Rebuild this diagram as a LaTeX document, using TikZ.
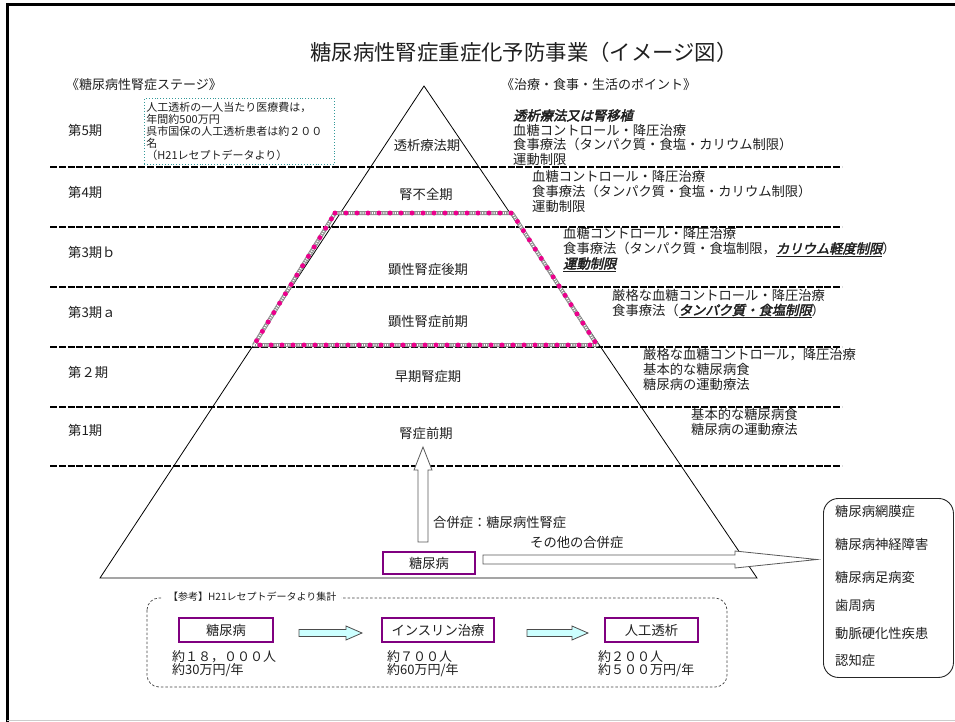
\documentclass[tikz,border=0pt]{standalone}
\usepackage{fontspec}
\setmainfont{Noto Sans CJK JP}
\newfontfamily\bifont[FakeSlant=0.22,FakeBold=2.5]{Noto Sans CJK JP}
\newcommand\bu[1]{\underline{\bifont #1}}
\definecolor{pboxc}{HTML}{800080}
\definecolor{tealc}{HTML}{339999}
\definecolor{cyanfill}{HTML}{CCFFFF}
\begin{document}
\begin{tikzpicture}[x=1pt,y=-1pt,
  txt/.style={inner sep=0pt, text=black!88, font=\fontsize{13.3}{15}\selectfont, align=left, anchor=west},
  ctxt/.style={inner sep=0pt, text=black!88, font=\fontsize{13.3}{15}\selectfont},
  stageline/.style={line width=1.6pt, dash pattern=on 7pt off 1.8pt},
  pbox/.style={draw=pboxc, line width=2.6pt, inner sep=0pt, text=black!88, font=\fontsize{13.3}{15}\selectfont, minimum height=22pt},
  blockarrow/.style={draw=black!65, fill=white, line width=0.8pt},
  cyanarrow/.style={draw=black!70, fill=cyanfill, line width=0.8pt}]
\useasboundingbox (0,0) rectangle (955,722);
% frame
\draw[line width=3pt] (7,722) -- (7,5) -- (957,5);
\draw[black!20, line width=1pt] (7,720) -- (955,720);
% title
\node[inner sep=0pt, text=black!88, font=\fontsize{21.4}{24}\selectfont] (title) at (524,52) {糖尿病性腎症重症化予防事業（イメージ図）};
\node[txt, font=\fontsize{13}{15}\selectfont] (hl) at (66,85) {《糖尿病性腎症ステージ》};
\node[txt, font=\fontsize{13}{15}\selectfont] (hr) at (501,85) {《治療・食事・生活のポイント》};
% pyramid
\coordinate (apex) at (424,86);
\coordinate (bl) at (100,578);
\coordinate (br) at (757,578);
\draw[line width=0.8pt] (apex) -- (bl) -- (br) -- cycle;
% stage lines
\foreach \yy in {167,227,287,347,407,466} \draw[stageline] (50,\yy) -- (842,\yy);
% pink trapezoid
\coordinate (t1) at (335,213);
\coordinate (t2) at (512,213);
\coordinate (t3) at (597,345);
\coordinate (t4) at (254,345);
\draw[black!45, line width=4pt, line join=round] (t1) -- (t2) -- (t3) -- (t4) -- cycle;
\draw[white, line width=2pt, dash pattern=on 1pt off 1.3pt] (t1) -- (t2) -- (t3) -- (t4) -- cycle;
\draw[magenta, line width=5pt, line cap=round, dash pattern=on 0pt off 11pt] (t1) -- (t2) -- (t3) -- (t4) -- cycle;
% stage labels
\node[txt] (s5) at (68,130) {第5期};
\node[txt] (s4) at (68,192) {第4期};
\node[txt] (s3b) at (68,252) {第3期ｂ};
\node[txt] (s3a) at (68,312) {第3期ａ};
\node[txt] (s2) at (68,372) {第２期};
\node[txt] (s1) at (68,430) {第1期};
% pyramid stage names
\node[ctxt] (p5) at (427,145) {透析療法期};
\node[ctxt] (p4) at (426,194) {腎不全期};
\node[ctxt] (p3b) at (428,269) {顕性腎症後期};
\node[ctxt] (p3a) at (428,321) {顕性腎症前期};
\node[ctxt] (p2) at (428,376) {早期腎症期};
\node[ctxt] (p1) at (426,433) {腎症前期};
% teal note
\node[draw=tealc, dotted, line width=0.9pt, anchor=north west, text width=186pt, inner xsep=2pt, inner ysep=0pt, minimum height=66pt, align=left, text=black!88, font=\fontsize{11}{12.2}\selectfont] (note) at (144,98) {人工透析の一人当たり医療費は，\\年間約500万円\\呉市国保の人工透析患者は約２００\\名\\（H21レセプトデータより）};
% points
\node[txt, font=\fontsize{13.3}{14.7}\selectfont] (r5) at (513,137.5) {{\bifont 透析療法又は腎移植}\\血糖コントロール・降圧治療\\食事療法（タンパク質・食塩・カリウム制限）\\運動制限};
\node[txt] (r4) at (532,191) {血糖コントロール・降圧治療\\食事療法（タンパク質・食塩・カリウム制限）\\運動制限};
\node[txt] (r3b) at (563,249.5) {血糖コントロール・降圧治療\\食事療法（タンパク質・食塩制限，\bu{カリウム軽度制限}）\\\bu{運動制限}};
\node[txt] (r3a) at (612,303.5) {厳格な血糖コントロール・降圧治療\\食事療法（\bu{タンパク質・食塩制限}）};
\node[txt] (r2) at (643,369) {厳格な血糖コントロール，降圧治療\\基本的な糖尿病食\\糖尿病の運動療法};
\node[txt] (r1) at (691,422) {基本的な糖尿病食\\糖尿病の運動療法};
% complications
\node[pbox, minimum width=92pt] (dm) at (429,563) {糖尿病};
\draw[blockarrow] (418,542) -- (418,470) -- (414,470) -- (423,447) -- (432,470) -- (428,470) -- (428,542) -- cycle;
\node[txt] (kidney) at (433,522) {合併症：糖尿病性腎症};
\node[txt] (other) at (530,542) {その他の合併症};
\draw[blockarrow] (483,555) -- (735,555) -- (735,551) -- (817,559.5) -- (735,568) -- (735,564) -- (483,564) -- cycle;
\node[draw=black!85, line width=0.9pt, rounded corners=15pt, anchor=north west, minimum width=130pt, minimum height=179pt] (comp) at (823,498) {};
\node[txt] (c1) at (835,511) {糖尿病網膜症};
\node[txt] (c2) at (835,544) {糖尿病神経障害};
\node[txt] (c3) at (835,577) {糖尿病足病変};
\node[txt] (c4) at (835,605) {歯周病};
\node[txt] (c5) at (835,633) {動脈硬化性疾患};
\node[txt] (c6) at (835,660) {認知症};
% reference box
\draw[black!75, line width=0.7pt, dash pattern=on 2.5pt off 2pt, rounded corners=12pt] (147,598) rectangle (727,687);
\node[fill=white, inner xsep=5pt, inner ysep=1pt, text=black!88, font=\fontsize{10}{12}\selectfont, anchor=west] (ref) at (163,597) {【参考】H21レセプトデータより集計};
\node[pbox, minimum width=94pt, minimum height=24pt] (b1) at (226,630) {糖尿病};
\node[pbox, minimum width=112pt, minimum height=24pt] (b2) at (438,630) {インスリン治療};
\node[pbox, minimum width=93pt, minimum height=24pt] (b3) at (651.5,630) {人工透析};
\draw[cyanarrow] (299,629.5) -- (346,629.5) -- (346,626) -- (362,633) -- (346,640) -- (346,636.5) -- (299,636.5) -- cycle;
\draw[cyanarrow] (527,629.5) -- (572,629.5) -- (572,626) -- (588,633) -- (572,640) -- (572,636.5) -- (527,636.5) -- cycle;
\node[txt, font=\fontsize{13}{13}\selectfont] (n1) at (172,663.5) {約１８，０００人\\約30万円/年};
\node[txt, font=\fontsize{13}{13}\selectfont] (n2) at (387,663.5) {約７００人\\約60万円/年};
\node[txt, font=\fontsize{13}{13}\selectfont] (n3) at (598,663.5) {約２００人\\約５００万円/年};
\end{tikzpicture}
\end{document}
